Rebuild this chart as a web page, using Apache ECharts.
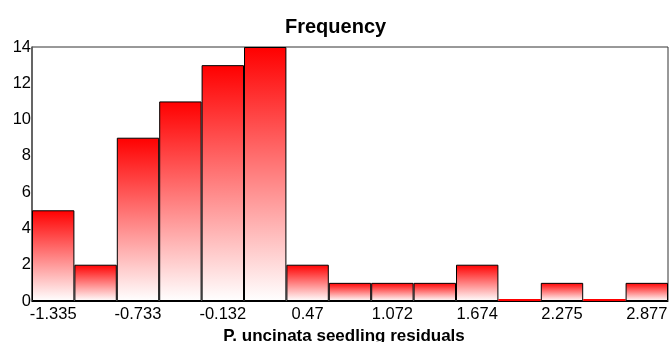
<!DOCTYPE html>
<html>
<head>
<meta charset="utf-8">
<script src="https://cdn.jsdelivr.net/npm/echarts@6/dist/echarts.min.js"></script>
<style>
  html, body { margin: 0; padding: 0; background: #fff; }
  #chart { width: 669px; height: 342px; }
</style>
</head>
<body>
<div id="chart"></div>
<script>
// Bin labels (bin centres) for the residual histogram
const binLabels = ['-1.335', '-1.034', '-0.733', '-0.432', '-0.132', '0.169', '0.47', '0.771',
                   '1.072', '1.373', '1.674', '1.975', '2.275', '2.576', '2.877'];
// Number of seedlings in each bin
const frequencies = [5, 2, 9, 11, 13, 14, 2, 1, 1, 1, 2, 0, 1, 0, 1];
// Y axis range
const yMin = 0, yMax = 14, yStep = 2;

const FONT = 'Liberation Sans, Arial, sans-serif';

const barFill = new echarts.graphic.LinearGradient(0, 0, 0, 1, [
  { offset: 0, color: '#ff0000' },
  { offset: 1, color: '#ffffff' }
]);

const seriesData = frequencies.map(v => v === 0
  ? { value: v, itemStyle: { color: '#ff0000', borderWidth: 0 } }
  : { value: v });

const chart = echarts.init(document.getElementById('chart'), null, { renderer: 'canvas' });
chart.setOption({
  animation: false,
  backgroundColor: '#ffffff',
  title: {
    text: 'Frequency',
    left: 285,
    top: 17,
    padding: 0,
    textStyle: { fontFamily: FONT, fontSize: 20, fontWeight: 'bold', color: '#000' }
  },
  grid: {
    left: 32, right: 1, top: 47, bottom: 41,
    containLabel: false,
    outerBoundsMode: 'none',
    show: true, borderColor: '#333', borderWidth: 1
  },
  xAxis: {
    type: 'category',
    data: binLabels,
    boundaryGap: true,
    axisLine: { show: true, lineStyle: { color: '#000', width: 1 } },
    axisTick: { show: false },
    axisLabel: {
      interval: 1,
      margin: 5,
      fontFamily: FONT, fontSize: 16.5, color: '#000'
    },
    name: 'P. uncinata seedling residuals',
    nameLocation: 'middle',
    nameGap: 22,
    nameTextStyle: { fontFamily: FONT, fontSize: 17, fontWeight: 'bold', color: '#000', padding: [0, 12, 0, 0] }
  },
  yAxis: {
    type: 'value',
    min: yMin, max: yMax, interval: yStep,
    splitLine: { show: false },
    axisLine: { show: true, lineStyle: { color: '#555', width: 1.5 } },
    axisTick: { show: false },
    axisLabel: { margin: 1, fontFamily: FONT, fontSize: 16.5, color: '#000' }
  },
  series: [{
    type: 'bar',
    data: seriesData,
    barCategoryGap: 0,
    barMinHeight: 2,
    itemStyle: { color: barFill, borderColor: '#000', borderWidth: 1 }
  }]
});
</script>
</body>
</html>
